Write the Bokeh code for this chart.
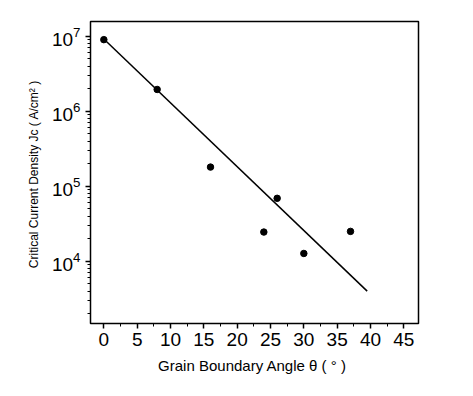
from bokeh.plotting import figure
from bokeh.embed import file_html
from bokeh.resources import INLINE
from bokeh.models import FixedTicker, Range1d

theta = [0, 8, 16, 24, 26, 30, 37]
jc = [9.0e6, 1.95e6, 1.8e5, 2.45e4, 6.9e4, 1.27e4, 2.5e4]
fit_theta = [0, 39.5]
fit_jc = [9.2e6, 4.0e3]
x_ticks = [0, 5, 10, 15, 20, 25, 30, 35, 40, 45]
y_ticks = [1e4, 1e5, 1e6, 1e7]

y_minor = [m * 10**k for k in range(3, 8) for m in range(2, 10)]

p = figure(output_backend="svg", toolbar_location=None, y_axis_type="log",
           frame_width=328, frame_height=302,
           min_border_left=90, min_border_right=30, min_border_top=21, min_border_bottom=60,
           x_range=Range1d(-2, 47.2), y_range=Range1d(10**3.17, 10**7.196))
p.grid.visible = False
p.outline_line_color = "black"
p.outline_line_width = 1.5
p.background_fill_color = "white"
p.border_fill_color = "white"

p.line(fit_theta, fit_jc, line_color="black", line_width=1.5)
p.scatter(theta, jc, size=6.5, color="black")

font = "Liberation Sans"
p.xaxis.ticker = FixedTicker(ticks=x_ticks, minor_ticks=[t + 2.5 for t in x_ticks[:-1]])
p.yaxis.ticker = FixedTicker(ticks=y_ticks, minor_ticks=y_minor)
p.xaxis.axis_label = "Grain Boundary Angle θ  ( ° )"
p.yaxis.axis_label = "Critical Current Density Jc  ( A/cm² )"
for ax in (p.xaxis, p.yaxis):
    ax.axis_line_color = None
    ax.major_tick_line_color = "black"
    ax.minor_tick_line_color = "black"
    ax.major_tick_line_width = 1.5
    ax.major_tick_out = 5
    ax.major_tick_in = 0
    ax.minor_tick_out = 3
    ax.minor_tick_in = 0
    ax.major_label_text_font = font
    ax.major_label_text_font_size = "19px"
    ax.major_label_text_color = "black"
    ax.axis_label_text_font = font
    ax.axis_label_text_font_style = "normal"
    ax.axis_label_text_color = "black"
p.xaxis.axis_label_text_font_size = "15px"
p.yaxis.axis_label_text_font_size = "12px"
p.xaxis.major_label_standoff = 4
p.xaxis.axis_label_standoff = 8
p.yaxis.axis_label_standoff = 8

open("out.html", "w").write(file_html(p, INLINE))
